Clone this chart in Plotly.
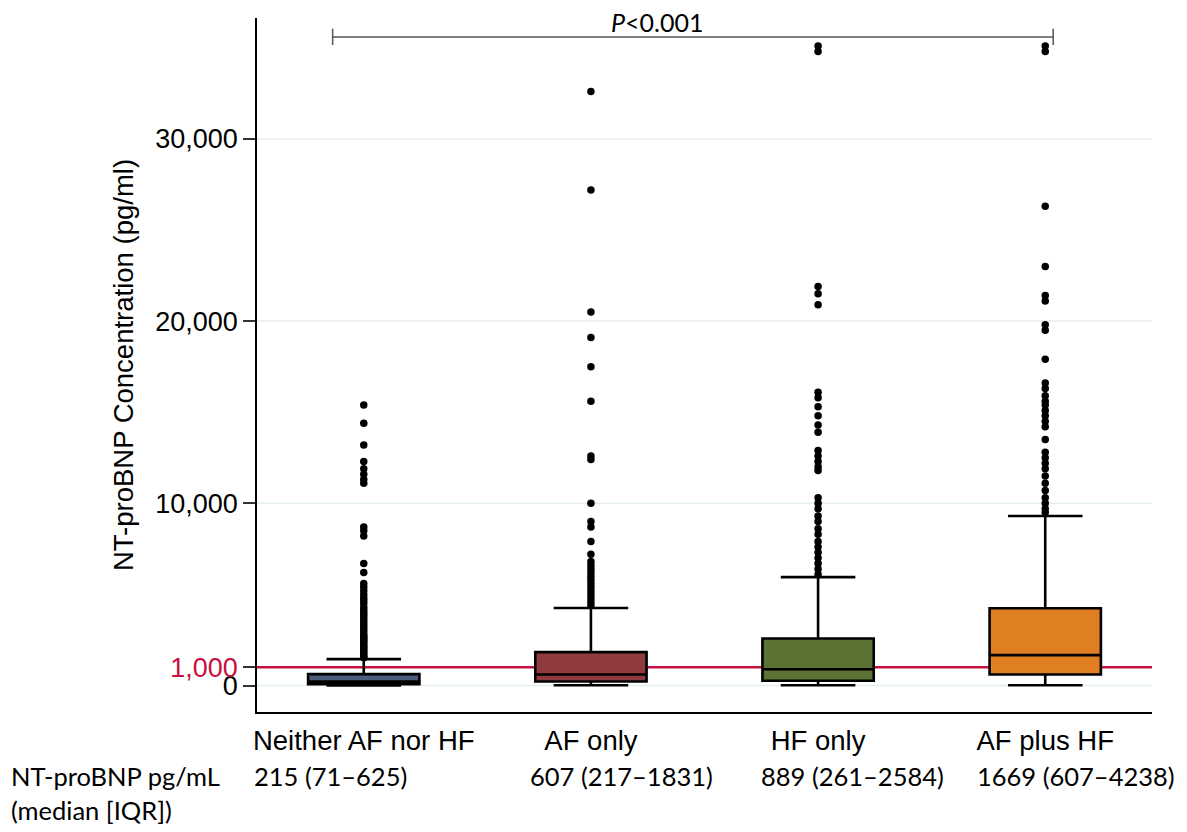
import plotly.graph_objects as go

# ---------------- data ----------------
categories = ["Neither AF nor HF", "AF only", "HF only", "AF plus HF"]
q1 = [71, 217, 261, 607]
medians = [215, 607, 889, 1669]
q3 = [625, 1831, 2584, 4238]
lower_fence = [10, 15, 15, 15]
upper_fence = [1450, 4250, 5950, 9300]
summary_labels = ["215 (71–625)", "607 (217–1831)", "889 (261–2584)", "1669 (607–4238)"]

outliers_neither = [15400, 14400, 13200, 12300, 11900, 11600, 11300, 11100, 8700, 8500, 8200,
                    6700, 6200, 5600, 5400, 5200, 5000, 4800, 4650, 4500, 4300, 4150, 4000,
                    3850, 3700, 3550, 3400, 3250, 3100, 2950, 2800, 2700, 2600, 2500, 2400,
                    2300, 2200, 2100, 2000, 1900, 1800, 1700, 1600, 1520]
outliers_af = [32600, 27200, 20500, 19100, 17500, 15600, 12600, 12400, 10000, 9000, 8700,
               7900, 7200, 6800, 6600, 6400, 6200, 6000, 5800, 5600, 5400, 5200, 5000,
               4800, 4600, 4400]
outliers_hf = [35100, 34800, 21900, 21500, 20900, 16100, 15800, 15300, 14800, 14300, 13900,
               12900, 12600, 12300, 12000, 11800, 10300, 10000, 9700, 9300, 9000, 8600, 8300,
               7900, 7600, 7300, 7000, 6700, 6400, 6100]
outliers_afhf = [35100, 34800, 26300, 23000, 21400, 21100, 19800, 19500, 17900, 16600, 16300,
                 15900, 15600, 15400, 15100, 14800, 14500, 14200, 13500, 12800, 12500, 12200,
                 11900, 11500, 11100, 10700, 10300, 10000, 9700, 9500]
outliers = [outliers_neither, outliers_af, outliers_hf, outliers_afhf]

threshold = 1000
grid_vals = [0, 10000, 20000, 30000]
y_tickvals = [0, 1000, 10000, 20000, 30000]
y_ticktext = ["0", '<span style="color:#C8103E">1,000</span>', "10,000", "20,000", "30,000"]
p_text = "<i>P</i>&lt;0.001"
row_title = ["NT-proBNP pg/mL", "(median [IQR])"]

# ---------------- styles ----------------
box_colors = ["#4D5B7C", "#8E3A3F", "#5A7334", "#E07F22"]
RED = "#C8103E"
GRID = "#E4EDF0"
OFF = 8  # page body margin
W, H = 1187 - OFF, 832 - OFF
L, T = 257 - OFF, 18 - OFF
PLOT_R, PLOT_B = 1152 - OFF, 712 - OFF
R, B = W - PLOT_R, H - PLOT_B
plot_w = PLOT_R - L
plot_h = PLOT_B - T


def px_x(px):
    return (px - OFF - L) / plot_w


def px_y(py):
    return (PLOT_B - (py - OFF)) / plot_h


fig = go.Figure()

for i, cat in enumerate(categories):
    fig.add_trace(go.Box(
        x=[cat], q1=[q1[i]], median=[medians[i]], q3=[q3[i]],
        lowerfence=[lower_fence[i]], upperfence=[upper_fence[i]],
        fillcolor=box_colors[i], line=dict(color="black", width=2.6),
        width=0.49, whiskerwidth=0.67, boxpoints=False, showlegend=False,
        hoverinfo="skip",
    ))
    fig.add_trace(go.Scatter(
        x=[cat] * len(outliers[i]), y=outliers[i], mode="markers",
        marker=dict(color="black", size=7.5, line=dict(width=0)),
        showlegend=False, hoverinfo="skip",
    ))

# horizontal grid lines (at the labelled round values)
for gv in grid_vals:
    fig.add_shape(type="line", xref="paper", x0=0, x1=1, yref="y", y0=gv, y1=gv,
                  line=dict(color=GRID, width=1.5), layer="below")

# threshold line
fig.add_shape(type="line", xref="paper", x0=0, x1=1, yref="y", y0=threshold, y1=threshold,
              line=dict(color=RED, width=2.5), layer="below")

# significance bracket
bx0, bx1 = -0.137, 3.035
by, by_lo, by_hi = 35600, 35150, 36050
br = dict(color="#555555", width=1.5)
fig.add_shape(type="line", xref="x", yref="y", x0=bx0, x1=bx1, y0=by, y1=by, line=br)
fig.add_shape(type="line", xref="x", yref="y", x0=bx0, x1=bx0, y0=by_lo, y1=by_hi, line=br)
fig.add_shape(type="line", xref="x", yref="y", x0=bx1, x1=bx1, y0=by_lo, y1=by_hi, line=br)

annotations = [
    dict(text=p_text, xref="paper", yref="paper", x=px_x(657), y=px_y(8),
         xanchor="center", yanchor="top", showarrow=False, borderpad=0, yshift=2,
         font=dict(family="Lato", size=25, color="black")),
    dict(text=row_title[0], xref="paper", yref="paper", x=px_x(9), y=px_y(776),
         xanchor="left", yanchor="middle", showarrow=False,
         font=dict(family="Lato", size=25.5, color="black")),
    dict(text=row_title[1], xref="paper", yref="paper", x=px_x(9), y=px_y(810),
         xanchor="left", yanchor="middle", showarrow=False,
         font=dict(family="Lato", size=25.5, color="black")),
]
label_left_px = [252, 528, 759, 975]
for lbl, lx in zip(summary_labels, label_left_px):
    annotations.append(dict(text=lbl, xref="paper", yref="paper", x=px_x(lx), y=px_y(776),
                            xanchor="left", yanchor="middle", showarrow=False,
                            font=dict(family="Lato", size=25.5, color="black")))

fig.update_layout(
    width=W, height=H,
    margin=dict(l=L, r=R, t=T, b=B, pad=0),
    paper_bgcolor="white", plot_bgcolor="white",
    font=dict(family="Liberation Sans", size=27, color="black"),
    showlegend=False,
    boxmode="overlay",
    annotations=annotations,
    xaxis=dict(
        type="category", categoryorder="array", categoryarray=categories,
        range=[-0.47, 3.47], showline=True, linecolor="black", linewidth=1.5,
        showgrid=False, zeroline=False, ticks="", ticklabelstandoff=3,
        tickfont=dict(size=27.5, family="Liberation Sans"),
    ),
    yaxis=dict(
        range=[-1454, 36636], tickvals=y_tickvals, ticktext=y_ticktext,
        showline=True, linecolor="black", linewidth=1.5,
        ticks="outside", ticklen=12, tickwidth=1.5, tickcolor="#333333",
        showgrid=False, zeroline=False,
        tickfont=dict(size=27, family="Liberation Sans"),
        title=dict(text="NT-proBNP Concentration (pg/ml)", standoff=14,
                   font=dict(size=27.5, family="Liberation Sans")),
    ),
)

fig.write_html("out.html")
